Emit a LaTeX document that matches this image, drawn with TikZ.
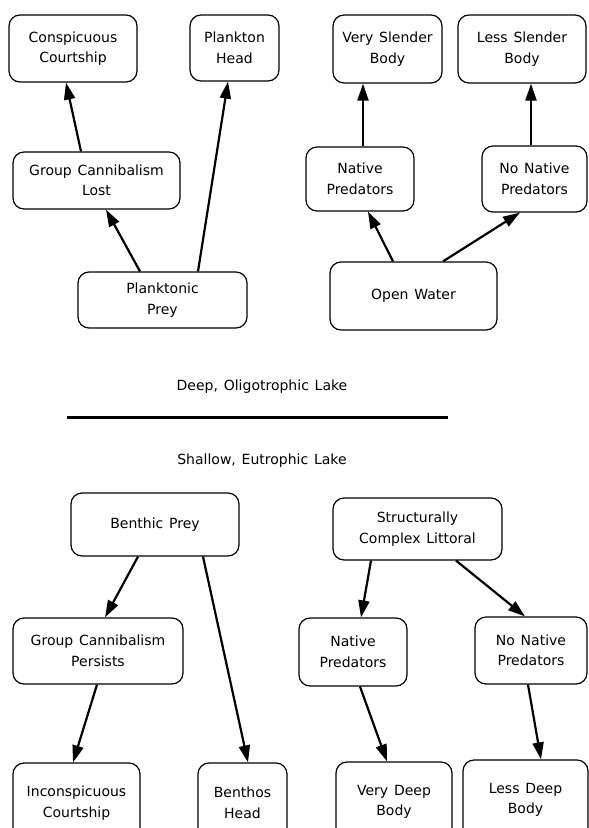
\documentclass[tikz,border=0pt]{standalone}
\usepackage{fontspec}
\setmainfont{DejaVu Sans}[WordSpace=1.3]
\usetikzlibrary{arrows.meta}

\begin{document}
\begin{tikzpicture}[yscale=-1
,boxstyle/.style={draw=black,line width=1.2pt,rounded corners=11pt,inner sep=0pt,align=center,font=\fontsize{14}{20.5}\selectfont}
,arrstyle/.style={draw=black,line width=2.2pt,-{Triangle[length=17pt,width=11pt]}}
]
\useasboundingbox (0pt,0pt) rectangle (589pt,828pt);
\node[boxstyle,minimum width=128pt,minimum height=67pt] (cc) at (73pt,48.5pt) {Conspicuous\\Courtship};
\node[boxstyle,minimum width=89pt,minimum height=66pt] (ph) at (234.5pt,48pt) {Plankton\\Head};
\node[boxstyle,minimum width=167pt,minimum height=57pt] (gcl) at (96.5pt,180.5pt) {Group Cannibalism\\Lost};
\node[boxstyle,minimum width=169pt,minimum height=56pt] (pp) at (162.5pt,300pt) {Planktonic\\Prey};
\node[boxstyle,minimum width=109pt,minimum height=68pt] (vsb) at (387.5pt,49pt) {Very Slender\\Body};
\node[boxstyle,minimum width=128pt,minimum height=68pt] (lsb) at (522pt,49pt) {Less Slender\\Body};
\node[boxstyle,minimum width=108pt,minimum height=64pt] (npa) at (360pt,179pt) {Native\\Predators};
\node[boxstyle,minimum width=105pt,minimum height=66pt] (nnpa) at (534.5pt,179pt) {No Native\\Predators};
\node[boxstyle,minimum width=167pt,minimum height=68pt] (ow) at (413.5pt,296pt) {Open Water};
\node[font=\fontsize{14}{20.5}\selectfont] (deep) at (262pt,387pt) {Deep, Oligotrophic Lake};
\draw[line width=3pt] (67pt,417pt) -- (448pt,417pt);
\node[font=\fontsize{14}{20.5}\selectfont] (shallow) at (262pt,461pt) {Shallow, Eutrophic Lake};
\node[boxstyle,minimum width=168pt,minimum height=63pt] (bp) at (155pt,524.5pt) {Benthic Prey};
\node[boxstyle,minimum width=170pt,minimum height=66pt] (gcp) at (98pt,651pt) {Group Cannibalism\\Persists};
\node[boxstyle,minimum width=127pt,minimum height=80pt] (ic) at (76.5pt,803pt) {Inconspicuous\\Courtship};
\node[boxstyle,minimum width=89pt,minimum height=80pt] (bh) at (242.5pt,803pt) {Benthos\\Head};
\node[boxstyle,minimum width=169pt,minimum height=62pt] (scl) at (417.5pt,529pt) {Structurally\\Complex Littoral};
\node[boxstyle,minimum width=108pt,minimum height=68pt] (npb) at (353pt,652pt) {Native\\Predators};
\node[boxstyle,minimum width=112pt,minimum height=67pt] (nnpb) at (531pt,650.5pt) {No Native\\Predators};
\node[boxstyle,minimum width=116pt,minimum height=80pt] (vdb) at (394pt,802pt) {Very Deep\\Body};
\node[boxstyle,minimum width=125pt,minimum height=80pt] (ldb) at (525.5pt,800pt) {Less Deep\\Body};
\draw[arrstyle] ([xshift=-15.5pt]gcl.north) -- ([xshift=-7pt]cc.south);
\draw[arrstyle] ([xshift=-22.5pt]pp.north) -- ([xshift=9.5pt]gcl.south);
\draw[arrstyle] ([xshift=35.5pt]pp.north) -- ([xshift=-6.5pt]ph.south);
\draw[arrstyle] ([xshift=3pt]npa.north) -- ([xshift=-24.5pt]vsb.south);
\draw[arrstyle] ([xshift=-3.5pt]nnpa.north) -- ([xshift=9pt]lsb.south);
\draw[arrstyle] ([xshift=-20.5pt]ow.north) -- ([xshift=8pt]npa.south);
\draw[arrstyle] ([xshift=29.5pt]ow.north) -- ([xshift=-14.5pt]nnpa.south);
\draw[arrstyle] ([xshift=-17pt]bp.south) -- ([xshift=7pt]gcp.north);
\draw[arrstyle] ([xshift=48pt]bp.south) -- ([xshift=5.5pt]bh.north);
\draw[arrstyle] ([xshift=-1pt]gcp.south) -- ([xshift=-3.5pt]ic.north);
\draw[arrstyle] ([xshift=-46.5pt]scl.south) -- ([xshift=8pt]npb.north);
\draw[arrstyle] ([xshift=38.5pt]scl.south) -- ([xshift=-6pt]nnpb.north);
\draw[arrstyle] ([xshift=7pt]npb.south) -- ([xshift=-7pt]vdb.north);
\draw[arrstyle] ([xshift=-3pt]nnpb.south) -- ([xshift=15.5pt]ldb.north);
\end{tikzpicture}
\end{document}
